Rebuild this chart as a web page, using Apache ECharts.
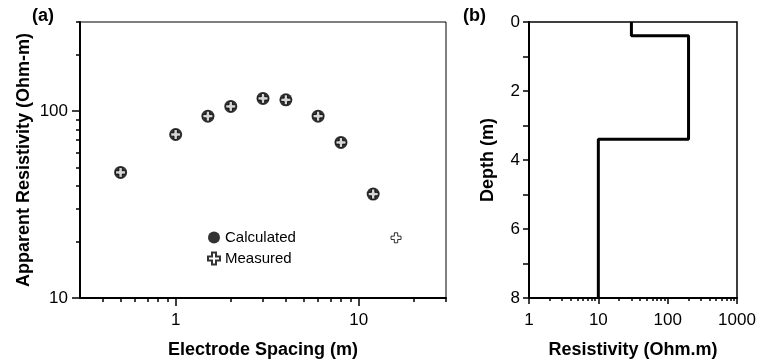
<!DOCTYPE html>
<html><head><meta charset="utf-8">
<script src="https://cdn.jsdelivr.net/npm/echarts@6/dist/echarts.min.js"></script>
<style>html,body{margin:0;padding:0;background:#fff}#c{width:762px;height:362px}</style>
</head><body><div id="c"></div>
<script>
// Panel (a): sounding curve
const spacing = [0.5, 1, 1.5, 2, 3, 4, 6, 8, 12, 16];
const measured = [47, 75, 94, 106, 117, 115, 94, 68, 36, 21];
const calcSpacing = [0.5, 1, 1.5, 2, 3, 4, 6, 8, 12];
const calculated = [47, 75, 94, 106, 117, 115, 94, 68, 36];
// Panel (b): layered model
const layerRes = [30, 200, 10];
const layerDepths = [0, 0.4, 3.4, 8];
// Ticks
const xMajorA = [1, 10];
const xMinorA = [0.4, 0.5, 0.6, 0.7, 0.8, 0.9, 2, 3, 4, 5, 6, 7, 8, 9, 20, 30];
const yMajorA = [10, 100];
const yMinorA = [20, 30, 40, 50, 60, 70, 80, 90, 200, 300];
const xMajorB = [1, 10, 100, 1000];
const xMinorB = [2, 3, 4, 5, 6, 7, 8, 9, 20, 30, 40, 50, 60, 70, 80, 90, 200, 300, 400, 500, 600, 700, 800, 900];
const yTicksB = [0, 1, 2, 3, 4, 5, 6, 7, 8];
const yLabelsB = [0, 2, 4, 6, 8];

const FONT = 'Liberation Sans';
const lab = { color: '#000', fontFamily: FONT, fontSize: 17, formatter: v => String(v) };
const nameStyle = { color: '#000', fontFamily: FONT, fontSize: 18, fontWeight: 'bold' };
const plusPath = 'path://M4,0L8,0L8,4L12,4L12,8L8,8L8,12L4,12L4,8L0,8L0,4L4,4Z';

const stepPts = [];
layerRes.forEach((r, i) => { stepPts.push([r, layerDepths[i]]); stepPts.push([r, layerDepths[i + 1]]); });

function mainAxis(o) {
  return Object.assign({
    axisLine: { show: true, onZero: false, lineStyle: { color: '#000', width: 2 } },
    splitLine: { show: false },
    axisLabel: Object.assign({}, lab),
    nameTextStyle: nameStyle,
    nameLocation: 'middle'
  }, o);
}
function minorAxis(o) {
  return Object.assign({
    axisLine: { show: false, onZero: false },
    splitLine: { show: false },
    axisLabel: { show: false },
  }, o);
}

const chart = echarts.init(document.getElementById('c'));
chart.setOption({
  animation: false,
  backgroundColor: '#fff',
  grid: [
    { left: 80, right: 316, top: 22, bottom: 64, show: true, borderColor: '#000', borderWidth: 1, outerBoundsMode: 'none' },
    { left: 529, right: 25, top: 22, bottom: 64, show: true, borderColor: '#000', borderWidth: 1.5, outerBoundsMode: 'none' }
  ],
  xAxis: [
    mainAxis({ type: 'log', logBase: 10, gridIndex: 0, min: 0.3, max: 30, position: 'bottom',
      name: 'Electrode Spacing (m)', nameGap: 43,
      axisTick: { show: true, length: 8, customValues: xMajorA, lineStyle: { color: '#000', width: 1.5 } },
      axisLabel: Object.assign({ customValues: xMajorA, margin: 14 }, lab) }),
    minorAxis({ type: 'log', logBase: 10, gridIndex: 0, min: 0.3, max: 30, position: 'bottom',
      axisTick: { show: true, length: 4, customValues: xMinorA, lineStyle: { color: '#000', width: 1.5 } } }),
    mainAxis({ type: 'log', logBase: 10, gridIndex: 1, min: 1, max: 1000, position: 'bottom',
      name: 'Resistivity (Ohm.m)', nameGap: 43,
      axisTick: { show: true, length: 6, customValues: xMajorB, lineStyle: { color: '#000', width: 1.5 } },
      axisLabel: Object.assign({ customValues: xMajorB, margin: 14 }, lab) }),
    minorAxis({ type: 'log', logBase: 10, gridIndex: 1, min: 1, max: 1000, position: 'bottom',
      axisTick: { show: true, length: 3, customValues: xMinorB, lineStyle: { color: '#000', width: 1.5 } } })
  ],
  yAxis: [
    mainAxis({ type: 'log', logBase: 10, gridIndex: 0, min: 10, max: 300, position: 'left',
      name: 'Apparent Resistivity (Ohm-m)', nameGap: 47,
      axisTick: { show: true, length: 8, customValues: yMajorA, lineStyle: { color: '#000', width: 1.5 } },
      axisLabel: Object.assign({ customValues: yMajorA, margin: 12 }, lab) }),
    minorAxis({ type: 'log', logBase: 10, gridIndex: 0, min: 10, max: 300, position: 'left',
      axisTick: { show: true, length: 4, customValues: yMinorA, lineStyle: { color: '#000', width: 1.5 } } }),
    mainAxis({ type: 'value', gridIndex: 1, min: 0, max: 8, inverse: true, position: 'left',
      name: 'Depth (m)', nameGap: 32,
      axisTick: { show: true, length: 6, customValues: yTicksB, lineStyle: { color: '#000', width: 1.5 } },
      axisLabel: Object.assign({ customValues: yLabelsB, margin: 9 }, lab) })
  ],
  legend: {
    orient: 'vertical', left: 202, top: 225, itemWidth: 12, itemHeight: 12, itemGap: 6,
    textStyle: { color: '#000', fontFamily: FONT, fontSize: 15 },
    data: ['Calculated', 'Measured']
  },
  graphic: [
    { type: 'text', left: 32, top: 7, style: { text: '(a)', font: 'bold 18px "Liberation Sans"', fill: '#000' } },
    { type: 'text', left: 463, top: 7, style: { text: '(b)', font: 'bold 18px "Liberation Sans"', fill: '#000' } }
  ],
  series: [
    { name: 'Calculated', type: 'scatter', xAxisIndex: 0, yAxisIndex: 0, symbol: 'circle', symbolSize: 13,
      itemStyle: { color: '#000' }, data: calcSpacing.map((x, i) => [x, calculated[i]]) },
    { name: 'Measured', type: 'scatter', xAxisIndex: 0, yAxisIndex: 0, symbol: plusPath, symbolSize: 10,
      itemStyle: { color: '#fff', borderColor: '#000', borderWidth: 1 }, data: spacing.map((x, i) => [x, measured[i]]) },
    { name: 'Model', type: 'line', xAxisIndex: 2, yAxisIndex: 2, symbol: 'none', showSymbol: false,
      lineStyle: { color: '#000', width: 3 }, data: stepPts }
  ]
});
</script></body></html>
